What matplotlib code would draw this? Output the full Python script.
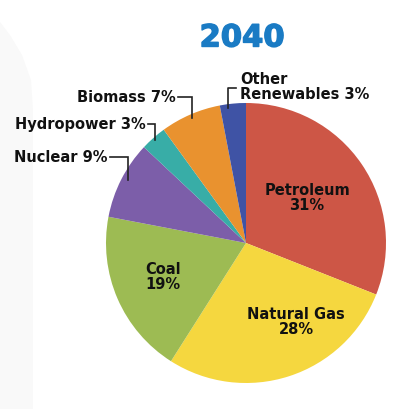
import matplotlib
matplotlib.use("Agg")
import matplotlib.pyplot as plt
from matplotlib.patches import Polygon
import matplotlib.patheffects as pe

# Data
categories = ["Petroleum", "Natural Gas", "Coal", "Nuclear", "Hydropower", "Biomass", "Other Renewables"]
values = [31, 28, 19, 9, 3, 7, 3]
colors = ["#CD5646", "#F5D73F", "#9DBB53", "#7C5EA9", "#38ADA7", "#E9922F", "#3F53A5"]
title = "2040"

W, H = 400, 409
fig = plt.figure(figsize=(W / 100, H / 100), dpi=100)
ax = fig.add_axes([0, 0, 1, 1])

def Y(y):
    return H - y

cx, cy, r = 246, Y(243), 140
ax.pie(values, colors=colors, startangle=90, counterclock=False,
       center=(cx, cy), radius=r, frame=True,
       wedgeprops=dict(linewidth=0))
ax.set_xlim(0, W)
ax.set_ylim(0, H)
ax.set_aspect("equal")
ax.axis("off")

# faint background shape at left edge
ax.add_patch(Polygon([(0, Y(22)), (10, Y(35)), (22, Y(55)), (31, Y(80)), (33, Y(110)),
                      (33, Y(409)), (0, Y(409))], closed=True, color="#f9f9f9",
                     lw=0, zorder=0))

font = "DejaVu Sans"
ax.text(242, Y(38), title, ha="center", va="center", color="#1A7BC4",
        fontsize=22, fontweight="bold", family=font,
        path_effects=[pe.withStroke(linewidth=1.0, foreground="#1A7BC4")])

def inner(x, y, name, v):
    ax.text(x, Y(y), f"{name}\n{v}%", ha="center", va="center", fontsize=10.5,
            fontweight="bold", family=font, color="#111111", linespacing=1.0)

inner(307, 198, categories[0], values[0])
inner(296, 322, categories[1], values[1])
inner(163, 277, categories[2], values[2])

def outer(x_end, y, text, lx, ly_end):
    ax.text(x_end, Y(y), text, ha="right", va="center", fontsize=10.5,
            fontweight="bold", family=font, color="#111111")
    ax.plot([x_end + 2, lx, lx], [Y(y), Y(y), Y(ly_end)], color="#222222", lw=1.2,
            solid_joinstyle="miter")

outer(108, 157, f"{categories[3]} {values[3]}%", 128, 180)
outer(146, 124, f"{categories[4]} {values[4]}%", 155, 140)
outer(176, 97, f"{categories[5]} {values[5]}%", 192, 118)

ax.text(240, Y(87), "Other\nRenewables " + f"{values[6]}%", ha="left", va="center",
        fontsize=10.5, fontweight="bold", family=font, color="#111111", linespacing=1.0)
ax.plot([236, 228, 228], [Y(88), Y(88), Y(108)], color="#222222", lw=1.2)

fig.savefig("out.png", dpi=100)
